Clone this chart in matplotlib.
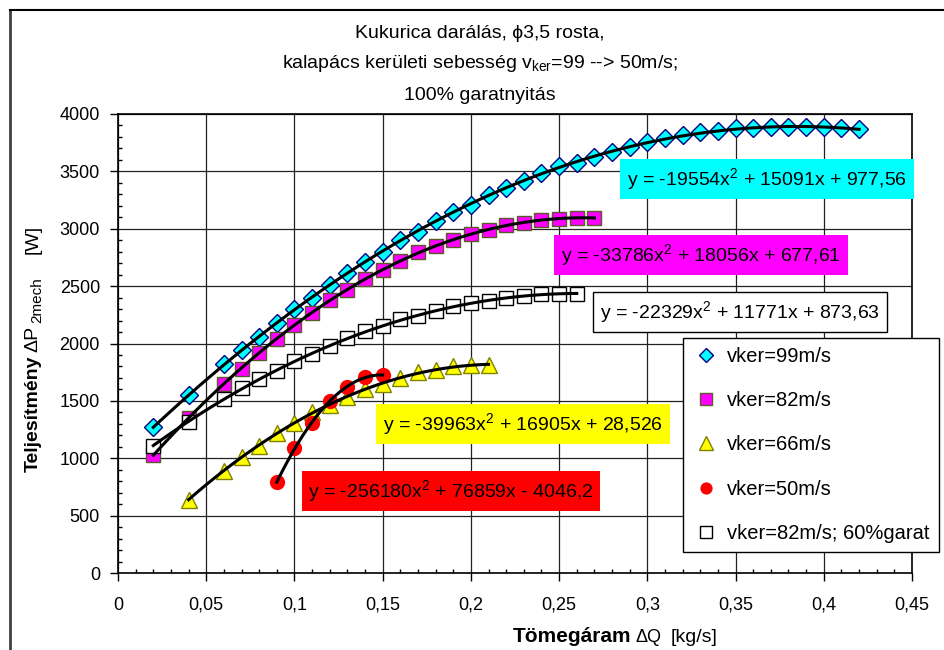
import numpy as np
import matplotlib
matplotlib.use("Agg")
import matplotlib.pyplot as plt
from matplotlib.ticker import MultipleLocator, FuncFormatter
from matplotlib.lines import Line2D

plt.rcParams["font.family"] = ["Liberation Sans", "DejaVu Sans"]
plt.rcParams["mathtext.fontset"] = "custom"
plt.rcParams["mathtext.rm"] = "Liberation Sans"
plt.rcParams["mathtext.it"] = "Liberation Sans:italic"
plt.rcParams["mathtext.bf"] = "Liberation Sans:bold"

# --- adatok (leolvasva) ---
q99 = [0.02, 0.04, 0.06, 0.07, 0.08, 0.09, 0.10, 0.11, 0.12, 0.13, 0.14, 0.15, 0.16,
       0.17, 0.18, 0.19, 0.20, 0.21, 0.22, 0.23, 0.24, 0.25, 0.26, 0.27, 0.28, 0.29,
       0.30, 0.31, 0.32, 0.33, 0.34, 0.35, 0.36, 0.37, 0.38, 0.39, 0.40, 0.41, 0.42]
p99 = [1270, 1550, 1820, 1945, 2057, 2178, 2300, 2396, 2510, 2614, 2710, 2797, 2902,
       2975, 3067, 3146, 3210, 3290, 3357, 3415, 3488, 3543, 3577, 3629, 3673, 3716,
       3754, 3789, 3818, 3840, 3850, 3875, 3880, 3884, 3884, 3884, 3884, 3880, 3865]

q82 = [0.02, 0.04, 0.06, 0.07, 0.08, 0.09, 0.10, 0.11, 0.12, 0.13, 0.14, 0.15, 0.16,
       0.17, 0.18, 0.19, 0.20, 0.21, 0.22, 0.23, 0.24, 0.25, 0.26, 0.27]
p82 = [1030, 1350, 1650, 1780, 1920, 2040, 2165, 2265, 2375, 2470, 2560, 2640, 2720,
       2795, 2850, 2906, 2956, 2993, 3030, 3050, 3077, 3088, 3094, 3094]

q66 = [0.04, 0.06, 0.07, 0.08, 0.09, 0.10, 0.11, 0.12, 0.13, 0.14, 0.15, 0.16, 0.17,
       0.18, 0.19, 0.20, 0.21]
p66 = [640, 890, 1013, 1106, 1217, 1311, 1407, 1465, 1532, 1602, 1646, 1699, 1748,
       1772, 1801, 1815, 1810]

q50 = [0.09, 0.10, 0.11, 0.12, 0.13, 0.14, 0.15]
p50 = [790, 1085, 1310, 1500, 1625, 1705, 1725]

q82g = [0.02, 0.04, 0.06, 0.07, 0.08, 0.09, 0.10, 0.11, 0.12, 0.13, 0.14, 0.15, 0.16,
        0.17, 0.18, 0.19, 0.20, 0.21, 0.22, 0.23, 0.24, 0.25, 0.26]
p82g = [1110, 1320, 1515, 1610, 1690, 1760, 1845, 1905, 1975, 2045, 2110, 2155, 2210,
        2240, 2280, 2325, 2350, 2370, 2395, 2410, 2434, 2434, 2434]

labels = ["vker=99m/s", "vker=82m/s", "vker=66m/s", "vker=50m/s", "vker=82m/s; 60%garat"]
equations = ["y = -19554x$^2$ + 15091x + 977,56",
             "y = -33786x$^2$ + 18056x + 677,61",
             "y = -39963x$^2$ + 16905x + 28,526",
             "y = -256180x$^2$ + 76859x - 4046,2",
             "y = -22329x$^2$ + 11771x + 873,63"]

W, H = 944, 650
fig = plt.figure(figsize=(W / 100, H / 100), dpi=100)
ax = fig.add_axes([118 / W, 1 - 573 / H, (912 - 118) / W, (573 - 114) / H])


def px(x, y):
    return x / W, 1 - y / H


series = [
    (q99, p99, dict(marker="D", ms=9.5, mfc="#00ffff", mec="#000080", mew=1)),
    (q82, p82, dict(marker="s", ms=10, mfc="#ff00ff", mec="#5a5a2a", mew=1)),
    (q66, p66, dict(marker="^", ms=12, mfc="#ffff00", mec="#808000", mew=1)),
    (q50, p50, dict(marker="o", ms=11, mfc="#ff0000", mec="#ff0000", mew=0)),
    (q82g, p82g, dict(marker="s", ms=10, mfc="white", mec="black", mew=1)),
]
handles = []
for (q, p, st), lab in zip(series, labels):
    h, = ax.plot(q, p, ls="none", label=lab, zorder=3, **st)
    handles.append(h)
    c = np.polyfit(q, p, 2)
    xs = np.linspace(min(q), max(q), 100)
    ax.plot(xs, np.polyval(c, xs), color="black", lw=2.2, zorder=4)

ax.set_xlim(0, 0.45)
ax.set_ylim(0, 4000)
ax.xaxis.set_major_locator(MultipleLocator(0.05))
ax.xaxis.set_minor_locator(MultipleLocator(0.01))
ax.yaxis.set_major_locator(MultipleLocator(500))
ax.yaxis.set_minor_locator(MultipleLocator(100))
ax.xaxis.set_major_formatter(FuncFormatter(lambda v, _: ("%g" % round(v, 3)).replace(".", ",")))
ax.tick_params(which="major", direction="out", length=6, width=1, labelsize=13)
ax.tick_params(axis="x", which="major", pad=11)
ax.tick_params(axis="y", which="major", pad=7)
ax.tick_params(which="minor", direction="in", length=3, width=1)
ax.grid(True, which="major", color="#222222", lw=0.9)
for s in ax.spines.values():
    s.set_color("black")
    s.set_linewidth(1.2)

# egyenletek
eq_style = [("#00ffff", "none", (767, 179)),
            ("#ff00ff", "none", (701, 255)),
            ("#ffff00", "none", (523, 424)),
            ("#ff0000", "none", (451, 491)),
            ("white", "black", (740, 312))]
for eq, (fc, ec, (x, y)) in zip(equations, eq_style):
    fig.text(*px(x, y), eq, ha="center", va="center", fontsize=14, zorder=6,
             bbox=dict(boxstyle="square,pad=0.35", fc=fc, ec=ec, lw=1))

leg = ax.legend(handles=handles, loc="upper left", bbox_to_anchor=((683 - 118) / 794, (573 - 338) / 459),
                fontsize=14.5, frameon=True, fancybox=False, edgecolor="black", framealpha=1,
                labelspacing=1.25, handlelength=1.4, handletextpad=0.35, borderpad=0.45,
                borderaxespad=0, markerscale=0.8)
leg.get_frame().set_linewidth(1)
leg.set_zorder(7)

# cím
fig.text(*px(480, 33), "Kukurica darálás, ϕ3,5 rosta,", ha="center", va="center", fontsize=14)
fig.text(*px(480, 64), r"kalapács kerületi sebesség v$_{\rm ker}$=99 --> 50m/s;", ha="center",
         va="center", fontsize=14)
fig.text(*px(480, 95), "100% garatnyitás", ha="center", va="center", fontsize=14)

# tengelyfeliratok
fig.text(*px(631, 637), "Tömegáram", ha="right", va="center", fontsize=15, fontweight="bold")
fig.text(*px(635, 637), "ΔQ", ha="left", va="center", fontsize=13)
fig.text(*px(671, 637), "[kg/s]", ha="left", va="center", fontsize=14)
fig.text(*px(33, 414), "Teljesítmény", ha="center", va="center", rotation=90, fontsize=14,
         fontweight="bold")
fig.text(*px(33, 352), "ΔP", ha="center", va="bottom", rotation=90, fontsize=14)
fig.text(*px(37, 323), "2mech", ha="center", va="bottom", rotation=90, fontsize=11)
fig.text(*px(33, 254), "[W]", ha="center", va="bottom", rotation=90, fontsize=14)

# diagram kerete
fig.add_artist(Line2D([10 / W, 10 / W], [0, 1 - 10 / H], color="#404040", lw=2))
fig.add_artist(Line2D([10 / W, 1], [1 - 10 / H, 1 - 10 / H], color="black", lw=1.5))

fig.savefig("out.png", dpi=100)
